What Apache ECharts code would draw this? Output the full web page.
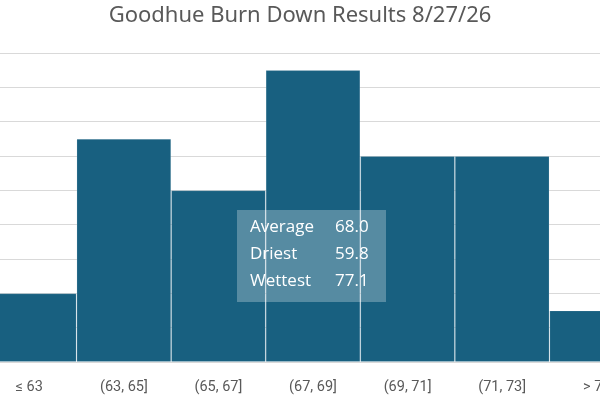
<!DOCTYPE html>
<html>
<head>
<meta charset="utf-8">
<script src="https://cdn.jsdelivr.net/npm/echarts@6/dist/echarts.min.js"></script>
<style>
  html, body { margin: 0; padding: 0; background: #fff; overflow: hidden; width: 600px; height: 400px; }
  /* the plot runs past both edges of the picture, so the chart box is wider than the page */
  #chart { width: 662px; height: 400px; margin-left: -18px; }
</style>
</head>
<body>
<div id="chart"></div>
<script>
// bins and counts
const bins = ['≤ 63', '(63, 65]', '(65, 67]', '(67, 69]', '(69, 71]', '(71, 73]', '> 73'];
const counts = [4, 13, 10, 17, 12, 12, 3];

// summary box
const statNames = ['Average', 'Driest', 'Wettest'];
const statValues = ['68.0', '59.8', '77.1'];

const OFF = 18; // page x -> chart x

const chart = echarts.init(document.getElementById('chart'), null, { renderer: 'canvas' });

const overlay = [
  {
    type: 'text', x: 300 + OFF, y: 5, z: 10,
    style: {
      text: 'Goodhue Burn Down Results 8/27/26',
      fill: '#595959', font: '22px "Noto Sans"',
      textAlign: 'center', textVerticalAlign: 'top'
    }
  },
  {
    type: 'rect', z: 10,
    shape: { x: 237 + OFF, y: 210, width: 149, height: 92 },
    style: { fill: 'rgba(255,255,255,0.27)' }
  }
];
statNames.forEach((name, i) => {
  overlay.push({
    type: 'text', x: 250 + OFF, y: 227 + i * 27, z: 11,
    style: { text: name, fill: '#fff', font: '17px "Open Sans"', textVerticalAlign: 'middle' }
  });
  overlay.push({
    type: 'text', x: 335 + OFF, y: 227 + i * 27, z: 11,
    style: { text: statValues[i], fill: '#fff', font: '17px "Open Sans"', textVerticalAlign: 'middle' }
  });
});

chart.setOption({
  animation: false,
  grid: { left: 0, right: 0, top: 53, bottom: 38, containLabel: false },
  xAxis: {
    type: 'category',
    data: bins,
    axisLine: { lineStyle: { color: '#d9d9d9' } },
    axisTick: { show: false },
    axisLabel: { color: '#595959', fontFamily: 'Roboto', fontSize: 14.5, margin: 18, interval: 0 }
  },
  yAxis: {
    type: 'value',
    min: 0, max: 18, interval: 2,
    axisLabel: { show: false },
    axisLine: { show: false },
    axisTick: { show: false },
    splitLine: { lineStyle: { color: '#d9d9d9', width: 1 } }
  },
  series: [{
    type: 'bar',
    data: counts,
    barCategoryGap: 0,
    itemStyle: { color: '#186080', borderColor: 'rgba(255,255,255,0.18)', borderWidth: 0.8 }
  }],
  graphic: overlay
});
</script>
</body>
</html>
